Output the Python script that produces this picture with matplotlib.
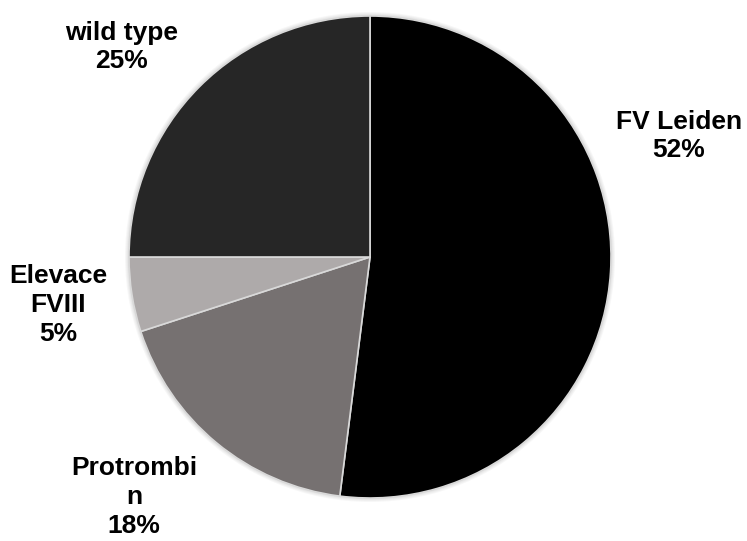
import matplotlib
matplotlib.use("Agg")
import matplotlib.pyplot as plt

categories = ["FV Leiden", "Protrombin", "Elevace FVIII", "wild type"]
values = [52, 18, 5, 25]
label_texts = ["FV Leiden\n52%", "Protrombi\nn\n18%", "Elevace\nFVIII\n5%", "wild type\n25%"]
colors = ["#000000", "#767171", "#AEAAAA", "#262626"]

W, H = 747, 541
fig = plt.figure(figsize=(W / 100, H / 100), dpi=100)
ax = fig.add_axes([0, 0, 1, 1])
ax.set_xlim(0, W)
ax.set_ylim(0, H)
ax.set_aspect("equal")
ax.axis("off")

cx, cy, r = 370, H - 257, 241

# soft shadow / glow
for i, a in enumerate([0.03, 0.03, 0.03, 0.03]):
    circ = plt.Circle((cx, cy), r + 4 - i, color="black", alpha=a, lw=0)
    ax.add_patch(circ)

ax.pie(values, colors=colors, startangle=90, counterclock=False,
       center=(cx, cy), radius=r, frame=True,
       wedgeprops=dict(edgecolor="#d9d9d9", linewidth=1.2))
ax.set_xlim(0, W)
ax.set_ylim(0, H)
ax.axis("off")

label_pos = [(679, 136), (134, 497), (58, 305), (122, 47)]
for txt, (x, y) in zip(label_texts, label_pos):
    ax.text(x, H - y, txt, ha="center", va="center", fontsize=19,
            fontweight="bold", family="Liberation Sans", linespacing=1.24,
            color="black")

fig.savefig("out.png", dpi=100)
